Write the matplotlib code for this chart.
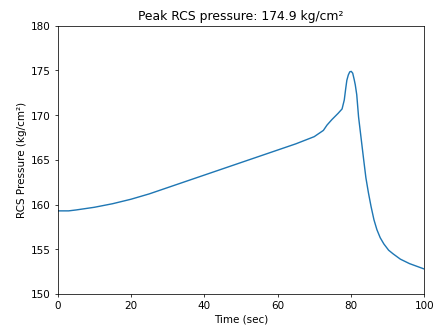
import numpy as np
import matplotlib
matplotlib.use('Agg')
import matplotlib.pyplot as plt

plt.rcParams['font.size'] = 11

# 时间 (sec) 与 RCS 压力 (kg/cm²)
time_sec = [0, 3, 5, 10, 15, 20, 25, 30, 35, 40, 45, 50, 55, 60, 65, 70, 72.5,
            73.5, 74.8, 76.5, 77.6, 78.2, 78.6, 78.9, 79.3, 79.7, 80.1, 80.5, 80.9,
            81.2, 81.6, 82.1, 82.8, 83.5, 84.1, 84.8, 85.5, 86.3, 87.1, 88.0,
            89.0, 90.3, 91.5, 93.5, 96.0, 100]
pressure = [159.3, 159.3, 159.4, 159.7, 160.1, 160.6, 161.2, 161.9, 162.6, 163.3,
            164.0, 164.7, 165.4, 166.1, 166.8, 167.6, 168.3,
            168.9, 169.5, 170.2, 170.7, 171.7, 173.0, 173.9, 174.5, 174.85, 174.9, 174.7, 174.0,
            173.4, 172.3, 169.8, 167.4, 165.0, 163.0, 161.3, 159.8, 158.3, 157.2, 156.3,
            155.6, 154.9, 154.5, 153.9, 153.4, 152.8]

peak = max(pressure)

fig = plt.figure(figsize=(6.4, 4.82), dpi=67.7)
ax = fig.add_subplot(111)
ax.plot(time_sec, pressure)
ax.set_xlim(0, 100)
ax.set_ylim(150, 180)
ax.set_xlabel("Time (sec)")
ax.set_ylabel("RCS Pressure (kg/cm²)")
ax.set_title(f"Peak RCS pressure: {peak:.1f} kg/cm²")
fig.subplots_adjust(left=0.133, right=0.979, bottom=0.098, top=0.92)
fig.savefig("out.png", dpi=67.7)
